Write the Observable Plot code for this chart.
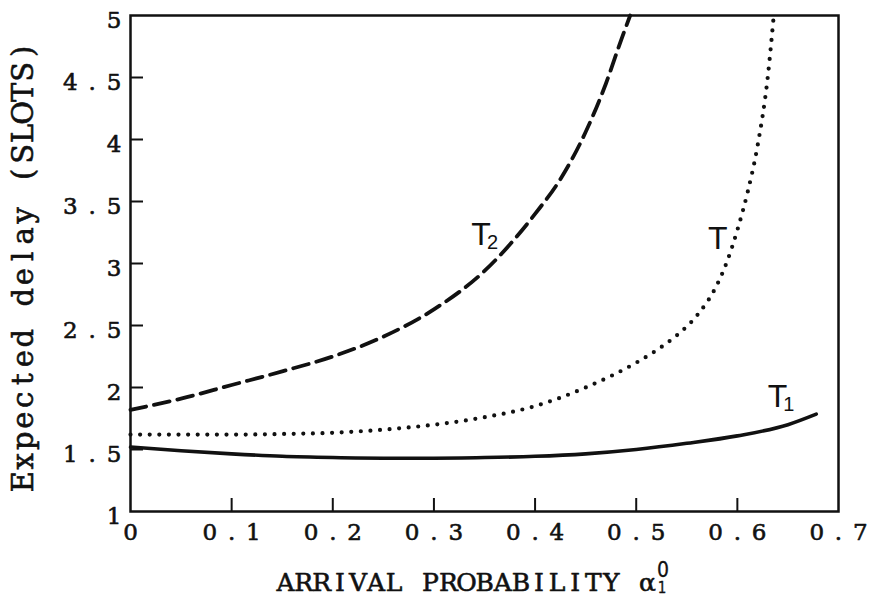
<!DOCTYPE html>
<html><head><meta charset="utf-8">
<script src="https://cdn.jsdelivr.net/npm/d3@7"></script>
<script src="https://cdn.jsdelivr.net/npm/@observablehq/plot@0.6"></script>
<style>body{margin:0;background:#fff}</style>
</head><body><div id="chart"></div>
<script>
// ---- data ----
const alphaT1 = [0, 0.05, 0.1, 0.15, 0.2, 0.25, 0.3, 0.35, 0.4, 0.45, 0.5, 0.55, 0.6, 0.65, 0.678];
const delayT1 = [1.52, 1.49, 1.465, 1.445, 1.435, 1.43, 1.43, 1.435, 1.445, 1.465, 1.50, 1.55, 1.61, 1.70, 1.785];

const alphaT = [0, 0.05, 0.1, 0.15, 0.2, 0.25, 0.3, 0.35, 0.4, 0.45, 0.5, 0.52, 0.54, 0.56, 0.58, 0.59, 0.6, 0.61, 0.62, 0.63, 0.636];
const delayT = [1.62, 1.62, 1.62, 1.625, 1.635, 1.66, 1.70, 1.76, 1.85, 2.00, 2.20, 2.30, 2.42, 2.58, 2.83, 3.02, 3.27, 3.57, 3.95, 4.50, 5.0];

const alphaT2 = [0, 0.05, 0.1, 0.15, 0.2, 0.25, 0.3, 0.35, 0.4, 0.425, 0.45, 0.47, 0.485, 0.494];
const delayT2 = [1.82, 1.91, 2.02, 2.13, 2.25, 2.41, 2.63, 2.94, 3.40, 3.68, 4.06, 4.45, 4.80, 5.0];

const xTicks = [0, 0.1, 0.2, 0.3, 0.4, 0.5, 0.6, 0.7];
const xTickLabels = ["0", "0.1", "0.2", "0.3", "0.4", "0.5", "0.6", "0.7"];
const yTicks = [1, 1.5, 2, 2.5, 3, 3.5, 4, 4.5, 5];
const yTickLabels = ["1", "1.5", "2", "2.5", "3", "3.5", "4", "4.5", "5"];

const curveNames = ["T", "T", "T"];
const curveSubs = ["2", "", "1"];
const labelAlpha = [0.337, 0.571, 0.630];
const labelDelay = [3.15, 3.12, 1.84];

const xTitle = "ARRIVAL PROBABILITY α";
const xTitleSup = "0";
const xTitleSub = "1";
const yTitle = "Expected delay (SLOTS)";

// ---- layout ----
const W = 869, H = 607, mL = 130, mR = 31, mT = 15, mB = 96;
const plotW = W - mL - mR, plotH = H - mT - mB;
const serif = "'DejaVu Serif', 'Liberation Serif', serif";
const sans = "'Liberation Sans', Arial, sans-serif";
const ink = "#111";
const bold = {stroke: ink, strokeWidth: 0.6};

const rows = (xs, ys) => xs.map((x, i) => ({x, y: ys[i]}));
const labels = curveNames.map((n, i) => ({n, s: curveSubs[i], x: labelAlpha[i], y: labelDelay[i]}));

const chart = Plot.plot({
  width: W, height: H,
  marginLeft: mL, marginRight: mR, marginTop: mT, marginBottom: mB,
  x: {domain: [0, 0.7], axis: null},
  y: {domain: [1, 5], axis: null},
  style: {background: "#fff", color: ink},
  marks: [
    Plot.line(rows(alphaT1, delayT1), {x: "x", y: "y", stroke: ink, strokeWidth: 3.6, curve: "monotone-x"}),
    Plot.line(rows(alphaT, delayT), {x: "x", y: "y", stroke: ink, strokeWidth: 4.2, strokeDasharray: "0,9.6", strokeLinecap: "round", curve: "monotone-x"}),
    Plot.line(rows(alphaT2, delayT2), {x: "x", y: "y", stroke: ink, strokeWidth: 3.8, strokeDasharray: "16,8", curve: "monotone-x"}),
    Plot.tickY(yTicks.slice(1, -1), {y: d => d, stroke: ink, strokeWidth: 2, insetRight: plotW - 13}),
    Plot.tickX(xTicks.slice(1, -1), {x: d => d, stroke: ink, strokeWidth: 2, insetTop: plotH - 13}),
    Plot.frame({stroke: ink, strokeWidth: 2.5}),
    // text marks, in this order: x tick labels, y tick labels, curve labels, y title, x title
    Plot.text(xTicks, {x: d => d, frameAnchor: "bottom", text: (d, i) => xTickLabels[i], lineAnchor: "bottom", dy: 28, fontFamily: serif, fontSize: 23, fill: ink, ...bold}),
    Plot.text(yTicks, {y: d => d, frameAnchor: "left", text: (d, i) => yTickLabels[i], textAnchor: "end", lineAnchor: "bottom", dy: 12, dx: -5.6, fontFamily: serif, fontSize: 23, fill: ink, ...bold}),
    Plot.text(labels, {x: "x", y: "y", text: "n", textAnchor: "start", lineAnchor: "bottom", fontFamily: sans, fontSize: 32, fill: ink}),
    Plot.text([yTitle], {frameAnchor: "left", rotate: -90, text: d => d, textAnchor: "middle", lineAnchor: "bottom", dx: -98, dy: 3, fontFamily: serif, fontSize: 29, fill: ink, ...bold}),
    Plot.text([xTitle], {frameAnchor: "bottom", text: d => d, textAnchor: "start", lineAnchor: "bottom", dy: 79, fontFamily: serif, fontSize: 25, fill: ink, ...bold})
  ]
});

const textGroups = Array.from(chart.querySelectorAll('g[aria-label="text"]'));
const [gXTick, gYTick, gCurve, gYTitle, gXTitle] = textGroups;

// emulate the typewriter (fixed pitch) lettering: one centred cell per character
function monoize(g, pitch, anchor, offset = 0) {
  if (!g) return;
  g.querySelectorAll("text").forEach(t => {
    const chars = Array.from(t.textContent);
    const n = chars.length;
    const base = anchor === "start" ? 0 : anchor === "end" ? -n : -n / 2;
    const xs = chars.map((c, i) => (offset + (base + i + 0.5) * pitch).toFixed(2));
    t.setAttribute("x", xs.join(" "));
    t.setAttribute("text-anchor", "middle");
  });
}
const cx = mL + plotW / 2;
monoize(gXTick, 21.8, "middle");
monoize(gYTick, 21.8, "end");
monoize(gYTitle, 20.5, "middle");
monoize(gXTitle, 18.1, "start", 276 - cx);

// sub/superscripts
const ns = "http://www.w3.org/2000/svg";
const addTspan = (t, txt, attrs) => {
  const s = document.createElementNS(ns, "tspan");
  for (const k in attrs) s.setAttribute(k, attrs[k]);
  s.textContent = txt;
  t.appendChild(s);
};
if (gCurve) gCurve.querySelectorAll("text").forEach((t, i) => {
  if (curveSubs[i]) addTspan(t, curveSubs[i], {dx: -4, dy: 4, "font-size": 20});
});
const xt = gXTitle && gXTitle.querySelector("text");
if (xt) {
  const subFont = "'DejaVu Sans Condensed', 'DejaVu Sans', sans-serif";
  addTspan(xt, xTitleSup, {x: (662.5 - cx).toFixed(1), dy: -14, "font-size": 21, "stroke-width": 0.3, "font-family": subFont});
  addTspan(xt, xTitleSub, {x: (661.5 - cx).toFixed(1), dy: 16, "font-size": 15, "stroke-width": 0.3, "font-family": subFont});
}

document.getElementById("chart").appendChild(chart);
</script>
</body></html>
